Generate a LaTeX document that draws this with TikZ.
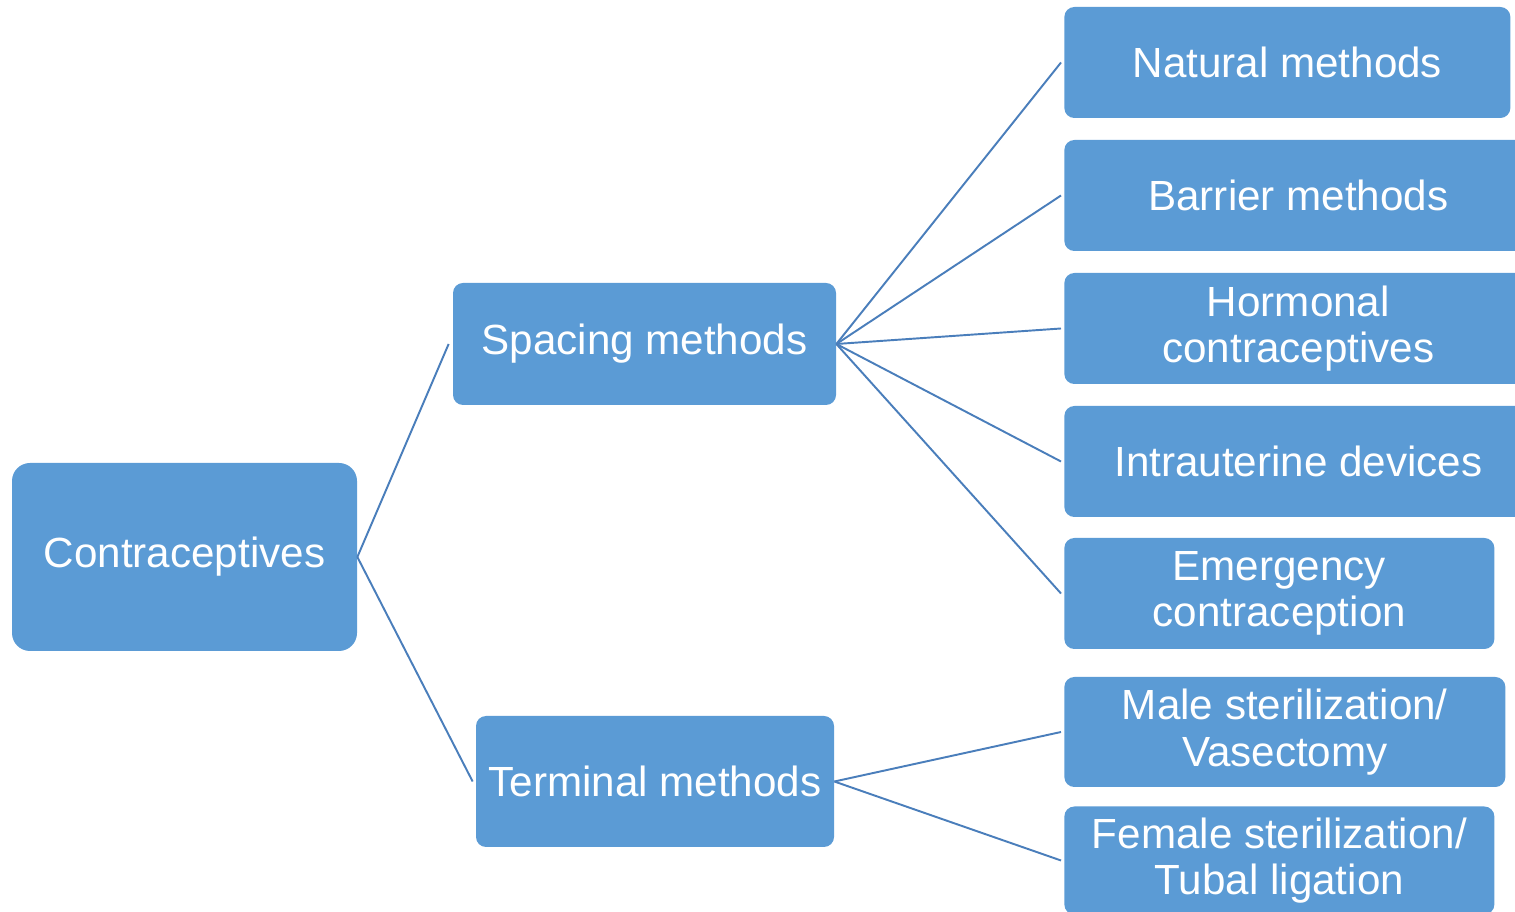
\documentclass[tikz,border=0pt]{standalone}
\usepackage{fontspec}
\setmainfont{Liberation Sans}
\usepackage{xcolor}
\usepackage{tikz}

\definecolor{boxblue}{HTML}{5B9BD5}
\definecolor{lineblue}{HTML}{4A7EBB}

\begin{document}
\begin{tikzpicture}[
			box/.style={rectangle, rounded corners=0.2cm, fill=boxblue, draw=none, text=white, align=center, font=\fontsize{24}{26.5}\selectfont, inner sep=0pt},
			leaf/.style={box, anchor=west, minimum height=2.22cm},
			link/.style={draw=lineblue, line width=1.1pt}
		]
		\useasboundingbox (0,0) rectangle (30.3,18.24);

		% Root
		\node[box, rounded corners=0.36cm, minimum width=6.9cm, minimum height=3.76cm] (root) at (3.69,7.10) {Contraceptives};

		% Groups
		\node[box, minimum width=7.66cm, minimum height=2.44cm] (spacing) at (12.89,11.36) {Spacing methods};
		\node[box, minimum width=7.16cm, minimum height=2.62cm] (terminal) at (13.10,2.61) {Terminal methods};

		% Spacing methods
		\node[leaf, minimum width=8.92cm] (natural) at (21.28,16.99) {Natural methods};
		\node[leaf, minimum width=9.36cm] (barrier) at (21.28,14.33) {Barrier methods};
		\node[leaf, minimum width=9.36cm] (hormonal) at (21.28,11.67) {Hormonal\\contraceptives};
		\node[leaf, minimum width=9.36cm] (iud) at (21.28,9.01) {Intrauterine devices};
		\node[leaf, minimum width=8.60cm] (emergency) at (21.28,6.37) {Emergency\\contraception};

		% Terminal methods
		\node[leaf, minimum width=8.82cm, minimum height=2.20cm] (male) at (21.28,3.60) {Male sterilization/\\Vasectomy};
		\node[leaf, minimum width=8.60cm, minimum height=2.16cm] (female) at (21.28,1.03) {Female sterilization/\\Tubal ligation};

		% Links
		\draw[link] (root.east) -- ([xshift=-0.08cm]spacing.west);
		\draw[link] (root.east) -- ([xshift=-0.06cm]terminal.west);
		\foreach \leafname in {natural, barrier, hormonal, iud, emergency}
			\draw[link] (spacing.east) -- ([xshift=-0.06cm]\leafname.west);
		\foreach \leafname in {male, female}
			\draw[link] (terminal.east) -- ([xshift=-0.06cm]\leafname.west);

	\end{tikzpicture}
\end{document}
